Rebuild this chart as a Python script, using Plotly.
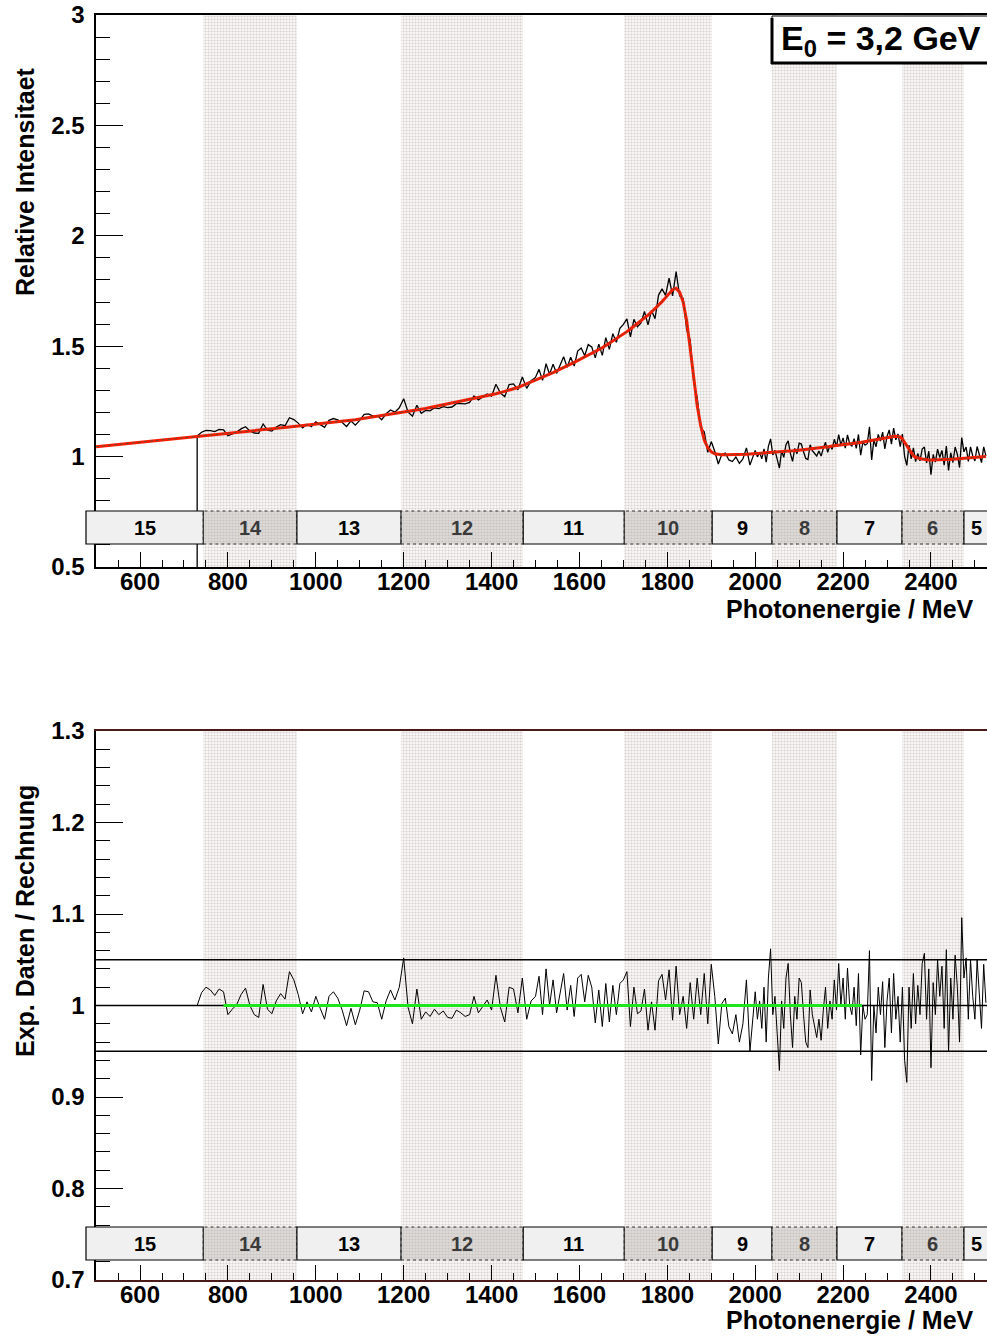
import numpy as np
import plotly.graph_objects as go

FONT = "Liberation Sans, Arial, Helvetica, sans-serif"
W, H = 987, 1338

# ---------------- tagger channel groups ----------------
group_labels = ["15", "14", "13", "12", "11", "10", "9", "8", "7", "6", "5"]
group_edges = [477, 744, 957, 1194, 1472, 1702, 1902, 2038, 2186, 2334, 2475, 2560]
shaded_groups = ["14", "12", "10", "8", "6"]

# ---------------- calculated intensity below the measured range ----------------
calc_low_e = [500, 600, 700]
calc_low = [1.045, 1.066, 1.087]

# ---------------- measured range: three binnings (start MeV, bin width MeV) ----------------
seg_start = [730, 1500, 2000]
seg_step = [10, 8, 5]

# calculation ("Rechnung") per bin
calc_a = [1.093, 1.095, 1.097, 1.099, 1.101, 1.103, 1.105, 1.106, 1.108, 1.110,
          1.112, 1.114, 1.116, 1.118, 1.120, 1.122, 1.124, 1.126, 1.128, 1.130,
          1.132, 1.134, 1.136, 1.138, 1.140, 1.142, 1.144, 1.146, 1.148, 1.150,
          1.153, 1.155, 1.157, 1.160, 1.162, 1.165, 1.167, 1.170, 1.173, 1.176,
          1.179, 1.182, 1.185, 1.188, 1.191, 1.194, 1.197, 1.200, 1.204, 1.207,
          1.211, 1.214, 1.218, 1.222, 1.226, 1.230, 1.234, 1.238, 1.242, 1.246,
          1.250, 1.254, 1.258, 1.262, 1.267, 1.271, 1.276, 1.280, 1.285, 1.290,
          1.295, 1.300, 1.306, 1.313, 1.321, 1.329, 1.337]
calc_b = [1.345, 1.352, 1.359, 1.366, 1.373, 1.380, 1.388, 1.395, 1.403, 1.411,
          1.419, 1.427, 1.435, 1.443, 1.451, 1.459, 1.467, 1.475, 1.484, 1.493,
          1.503, 1.513, 1.523, 1.533, 1.544, 1.555, 1.566, 1.578, 1.590, 1.602,
          1.615, 1.628, 1.641, 1.655, 1.670, 1.686, 1.702, 1.720, 1.740, 1.756,
          1.762, 1.745, 1.700, 1.615, 1.490, 1.360, 1.230, 1.140, 1.075, 1.040,
          1.022, 1.013, 1.009, 1.008, 1.008, 1.008, 1.009, 1.009, 1.010, 1.010,
          1.011, 1.012, 1.013]
calc_c = [1.013, 1.014, 1.014, 1.015, 1.015, 1.016, 1.016, 1.017, 1.018, 1.018,
          1.019, 1.020, 1.021, 1.022, 1.023, 1.024, 1.025, 1.026, 1.027, 1.028,
          1.030, 1.031, 1.032, 1.033, 1.034, 1.036, 1.037, 1.038, 1.039, 1.041,
          1.042, 1.043, 1.044, 1.045, 1.046, 1.048, 1.049, 1.050, 1.051, 1.052,
          1.053, 1.054, 1.055, 1.057, 1.058, 1.060, 1.061, 1.063, 1.064, 1.066,
          1.068, 1.069, 1.071, 1.073, 1.075, 1.077, 1.079, 1.081, 1.083, 1.085,
          1.086, 1.088, 1.089, 1.091, 1.092, 1.092, 1.089, 1.080, 1.065, 1.048,
          1.032, 1.015, 1.004, 0.997, 0.993, 0.991, 0.989, 0.987, 0.986, 0.985,
          0.985, 0.985, 0.985, 0.985, 0.986, 0.986, 0.986, 0.987, 0.987, 0.988,
          0.988, 0.989, 0.990, 0.990, 0.991, 0.992, 0.992, 0.993, 0.994, 0.994,
          0.995, 0.996, 0.997, 0.998, 0.999, 1.000]

# measured / calculated per bin
ratio_a = [1.000, 1.014, 1.020, 1.017, 1.011, 1.018, 1.015, 0.990, 0.996, 1.001,
           1.012, 1.019, 1.000, 0.990, 0.987, 1.023, 0.996, 0.991, 1.005, 1.013,
           1.007, 1.037, 1.028, 1.012, 0.991, 1.004, 0.993, 1.010, 0.997, 0.985,
           1.010, 1.015, 1.008, 0.995, 0.978, 0.997, 0.979, 0.995, 1.016, 1.015,
           1.004, 1.003, 0.985, 1.005, 1.017, 1.006, 1.020, 1.052, 0.998, 0.980,
           1.018, 0.985, 0.993, 0.988, 0.996, 0.990, 0.994, 0.987, 0.986, 0.995,
           0.992, 0.988, 0.990, 1.010, 0.992, 0.999, 1.006, 0.995, 1.033, 0.998,
           0.982, 1.020, 1.018, 0.992, 1.030, 0.985, 1.005]
ratio_b = [1.010, 1.032, 0.990, 1.040, 1.000, 1.028, 0.992, 1.015, 1.035, 0.995,
           1.022, 0.988, 1.030, 1.034, 1.004, 1.033, 1.020, 0.981, 1.017, 0.977,
           1.024, 0.982, 1.022, 0.990, 1.024, 1.028, 1.037, 0.977, 1.020, 0.991,
           0.994, 1.018, 0.973, 1.004, 0.973, 1.027, 1.034, 1.006, 1.039, 0.984,
           1.043, 0.990, 1.010, 0.975, 1.025, 0.985, 1.030, 0.990, 1.035, 0.980,
           1.045, 1.010, 0.958, 1.002, 1.008, 0.977, 0.969, 0.990, 0.960, 0.980,
           1.028, 0.950, 1.000]
ratio_c = [1.015, 0.985, 1.005, 0.975, 1.020, 0.960, 1.030, 1.062, 0.990, 1.010,
           0.968, 0.929, 1.005, 0.975, 1.030, 1.046, 0.990, 0.954, 1.010, 0.985,
           1.030, 1.025, 0.990, 0.960, 0.954, 1.017, 0.990, 0.975, 0.965, 0.985,
           0.962, 0.995, 1.020, 0.975, 1.005, 0.985, 1.028, 0.995, 1.046, 1.000,
           1.030, 0.985, 1.041, 1.000, 0.990, 1.020, 0.978, 1.035, 0.946, 1.000,
           0.985, 0.990, 1.060, 0.918, 1.000, 0.970, 1.020, 0.990, 1.026, 0.954,
           1.005, 1.030, 0.970, 1.035, 0.985, 1.010, 0.960, 1.020, 0.940, 0.916,
           1.020, 0.975, 1.035, 0.980, 1.022, 0.990, 1.046, 1.057, 0.985, 1.040,
           0.932, 1.025, 0.990, 1.050, 1.010, 1.043, 0.975, 1.061, 0.950, 1.030,
           0.985, 1.055, 1.020, 0.960, 1.096, 1.030, 1.052, 0.985, 1.050, 1.010,
           0.985, 1.050, 1.005, 0.975, 1.045, 1.003]

empty_bin_level = 0.0          # content of the bin just below the measured range
ratio_guides = [0.95, 1.0, 1.05]
flat_fit_range = [790, 2243]
flat_fit_level = 1.0

x_range = [500, 2527.5]
y1_range = [0.5, 3.0]
y2_range = [0.7, 1.3]

# ---------------- assemble series ----------------
calcs = [calc_a, calc_b, calc_c]
ratios = [ratio_a, ratio_b, ratio_c]
energy = np.concatenate([s + st * np.arange(len(c)) for s, st, c in zip(seg_start, seg_step, calcs)])
calc = np.concatenate([np.array(c) for c in calcs])
ratio = np.concatenate([np.array(r) for r in ratios])
exp_data = calc * ratio

calc_e_full = np.concatenate([calc_low_e, energy])
calc_full = np.concatenate([calc_low, calc])

# ---------------- layout geometry (pixels -> paper) ----------------
X0 = 96.1 / W
top_dom = [1 - 567 / H, 1 - 15 / H]
bot_dom = [1 - 1280 / H, 1 - 731 / H]


def px_x(p):
    return p / W


def px_y(p):
    return 1 - p / H


def e_to_paper(e):
    return X0 + (e - x_range[0]) / (x_range[1] - x_range[0]) * (1 - X0)


fig = go.Figure()

# shaded channel bands (stippled)
shaded_idx = [i for i, g in enumerate(group_labels) if g in shaded_groups]
band_c = [(group_edges[i] + group_edges[i + 1]) / 2 for i in shaded_idx]
band_w = [group_edges[i + 1] - group_edges[i] for i in shaded_idx]
for xa, ya, yr in [("x", "y", y1_range), ("x2", "y2", y2_range)]:
    n = len(band_c)
    fig.add_trace(go.Bar(
        x=band_c, y=[yr[1] - yr[0]] * n, base=[yr[0]] * n, width=band_w,
        xaxis=xa, yaxis=ya, hoverinfo="skip", showlegend=False,
        marker=dict(color="rgba(0,0,0,0)", line=dict(width=0),
                    pattern=dict(shape=".", fgcolor="#b2a69e", bgcolor="rgba(244,242,240,0.5)",
                                 size=3, solidity=0.35)),
    ))

# top panel: measured intensity, calculation
fig.add_trace(go.Scatter(
    x=np.concatenate([[energy[0]], energy]), y=np.concatenate([[empty_bin_level], exp_data]),
    mode="lines", line=dict(color="black", width=1.3), xaxis="x", yaxis="y",
    showlegend=False, hoverinfo="skip"))
fig.add_trace(go.Scatter(
    x=calc_e_full, y=calc_full, mode="lines", line=dict(color="#ff1a00", width=3),
    xaxis="x", yaxis="y", showlegend=False, hoverinfo="skip"))
fig.add_trace(go.Scatter(
    x=calc_e_full, y=calc_full, mode="lines", line=dict(color="#6b4a2a", width=1, dash="dot"),
    xaxis="x", yaxis="y", showlegend=False, hoverinfo="skip"))

# bottom panel: guide lines, ratio, constant fit
for g in ratio_guides:
    fig.add_trace(go.Scatter(
        x=x_range, y=[g, g], mode="lines", line=dict(color="black", width=1.5),
        xaxis="x2", yaxis="y2", showlegend=False, hoverinfo="skip"))
fig.add_trace(go.Scatter(
    x=energy, y=ratio, mode="lines", line=dict(color="black", width=1),
    xaxis="x2", yaxis="y2", showlegend=False, hoverinfo="skip"))
fig.add_trace(go.Scatter(
    x=flat_fit_range, y=[flat_fit_level] * 2, mode="lines", line=dict(color="#1ee61e", width=3),
    xaxis="x2", yaxis="y2", showlegend=False, hoverinfo="skip"))

# channel group boxes
shapes = []
annotations = []
for ybox in [(511, 544), (1227, 1260)]:
    for i, g in enumerate(group_labels):
        x0, x1 = e_to_paper(group_edges[i]), e_to_paper(group_edges[i + 1])
        shaded = g in shaded_groups
        shapes.append(dict(
            type="rect", xref="paper", yref="paper", layer="above",
            x0=x0, x1=x1, y0=px_y(ybox[1]), y1=px_y(ybox[0]),
            fillcolor="rgba(180,175,170,0.40)" if shaded else "#f0f0f0",
            line=dict(color="#333333" if shaded else "black", width=1.2,
                      dash="dot" if shaded else "solid")))
        xc = e_to_paper(group_edges[i]) + 0.0125 if g == "5" else (x0 + x1) / 2
        annotations.append(dict(
            x=xc, y=px_y((ybox[0] + ybox[1]) / 2), xref="paper", yref="paper",
            text=g, showarrow=False, xanchor="center", yanchor="middle",
            font=dict(family=FONT, size=20, weight="bold",
                      color="#3a3a3a" if shaded else "black")))

# beam energy label box
shapes.append(dict(type="rect", xref="paper", yref="paper", layer="above",
                   x0=px_x(772), x1=px_x(1000), y0=px_y(63), y1=px_y(16),
                   fillcolor="white", line=dict(color="black", width=1)))
shapes.append(dict(type="line", xref="paper", yref="paper", layer="above",
                   x0=px_x(772), x1=px_x(772), y0=px_y(64), y1=px_y(18),
                   line=dict(color="black", width=3)))
shapes.append(dict(type="line", xref="paper", yref="paper", layer="above",
                   x0=px_x(771), x1=px_x(1000), y0=px_y(63), y1=px_y(63),
                   line=dict(color="black", width=3)))
annotations.append(dict(
    x=px_x(779), y=px_y(40), xref="paper", yref="paper", xanchor="left", yanchor="middle",
    text="E<sub>0</sub> = 3,2 GeV", showarrow=False,
    font=dict(family=FONT, size=34, weight="bold", color="black")))

# axis titles
for txt, yc in [("Photonenergie / MeV", 609), ("Photonenergie / MeV", 1320)]:
    annotations.append(dict(x=px_x(976), y=px_y(yc), xref="paper", yref="paper",
                            xanchor="right", yanchor="middle", text=txt, showarrow=False,
                            font=dict(family=FONT, size=25, weight="bold", color="black")))
for txt, yc in [("Relative Intensitaet", 182), ("Exp. Daten / Rechnung", 921)]:
    annotations.append(dict(x=px_x(25), y=px_y(yc), xref="paper", yref="paper",
                            xanchor="center", yanchor="middle", textangle=-90, text=txt,
                            showarrow=False,
                            font=dict(family=FONT, size=25, weight="bold", color="black")))

tick_font = dict(family=FONT, size=24, weight="bold", color="black")


def xaxis_style(anchor, linecolor):
    return dict(range=x_range, domain=[X0, 1], anchor=anchor, showline=True,
                linecolor=linecolor, linewidth=1.5, mirror=True, ticks="inside",
                ticklen=15, tickwidth=1, tickcolor="black", tickmode="linear",
                tick0=0, dtick=200, tickfont=tick_font, showgrid=False, zeroline=False,
                automargin=False, ticklabelstandoff=-8,
                minor=dict(ticks="inside", ticklen=7, tickmode="linear", tick0=0, dtick=50,
                           tickcolor="black", tickwidth=1, showgrid=False))


def yaxis_style(anchor, dom, yr, major, minor, labels):
    return dict(range=yr, domain=dom, anchor=anchor, showline=True, linecolor="black",
                linewidth=1.5, ticks="inside", ticklen=27, tickwidth=1, tickcolor="black",
                tickmode="array", tickvals=major, ticktext=labels, tickfont=tick_font,
                ticklabelstandoff=5, showgrid=False, zeroline=False, automargin=False,
                minor=dict(ticks="inside", ticklen=14, tickmode="array", tickvals=minor,
                           tickcolor="black", tickwidth=1, showgrid=False))


y1_major = [0.5, 1.0, 1.5, 2.0, 2.5, 3.0]
y1_labels = ["0.5", "1", "1.5", "2", "2.5", "3"]
y1_minor = [round(0.5 + 0.1 * k, 2) for k in range(26)]
y2_major = [0.7, 0.8, 0.9, 1.0, 1.1, 1.2, 1.3]
y2_labels = ["0.7", "0.8", "0.9", "1", "1.1", "1.2", "1.3"]
y2_minor = [round(0.7 + 0.02 * k, 3) for k in range(31)]

fig.update_layout(
    width=W, height=H, margin=dict(l=0, r=0, t=0, b=0, pad=0, autoexpand=False),
    paper_bgcolor="white", plot_bgcolor="white", barmode="overlay", bargap=0,
    showlegend=False,
    xaxis=xaxis_style("y", "black"),
    yaxis=yaxis_style("x", top_dom, y1_range, y1_major, y1_minor, y1_labels),
    xaxis2=xaxis_style("y2", "#4a1a1a"),
    yaxis2=yaxis_style("x2", bot_dom, y2_range, y2_major, y2_minor, y2_labels),
    shapes=shapes, annotations=annotations,
)

fig.write_html("out.html")
